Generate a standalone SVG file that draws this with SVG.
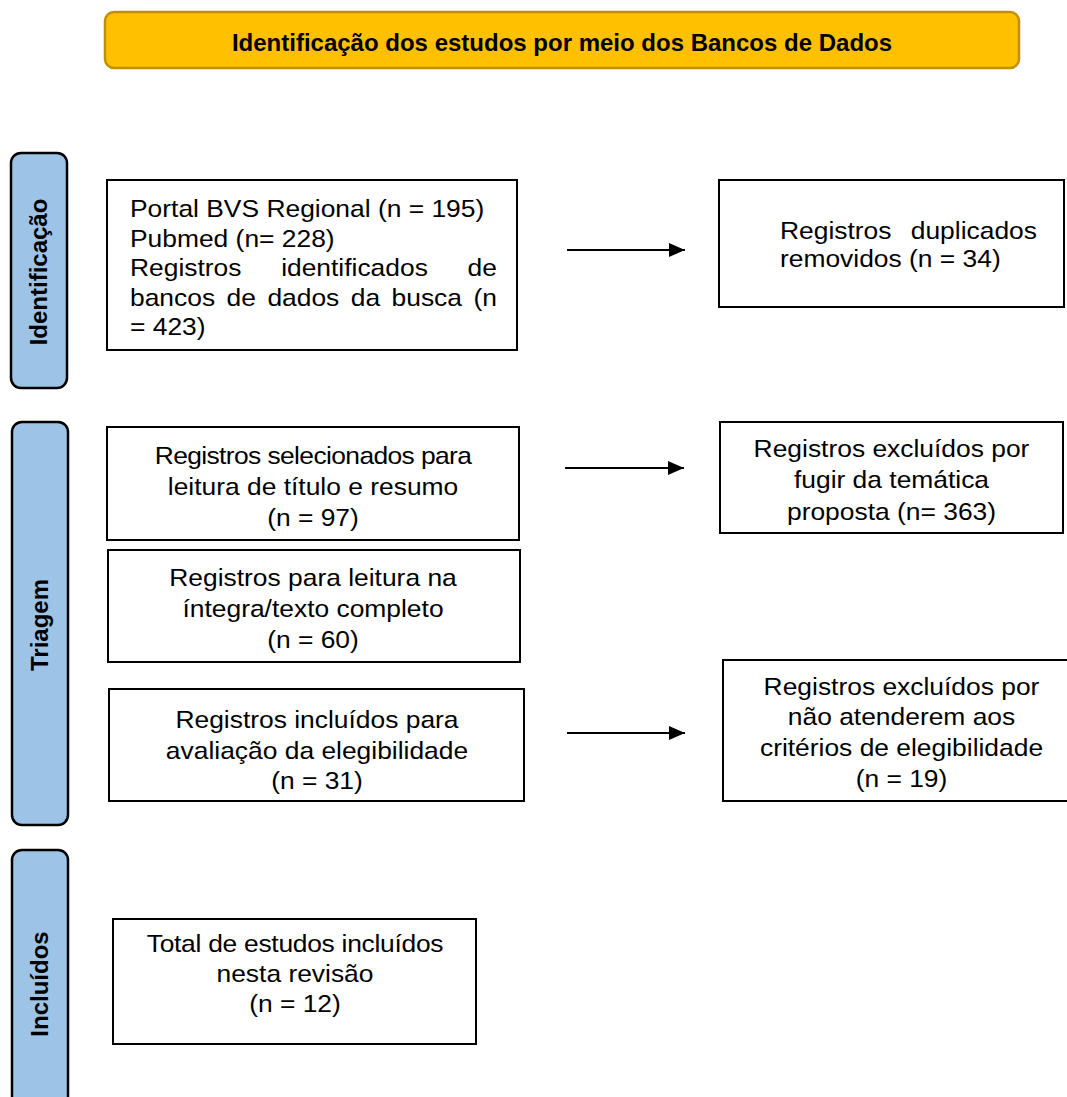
<svg xmlns="http://www.w3.org/2000/svg" width="1067" height="1097" viewBox="0 0 1067 1097">
<defs>
<style>
.bx{fill:#fff;stroke:#000;stroke-width:2}
.side{fill:#9DC3E6;stroke:#000;stroke-width:2.5}
.t{font-family:"Liberation Sans",Arial,sans-serif;font-size:24px;fill:#000}
.c{text-anchor:middle}
.e{text-anchor:end}
.b{font-family:"Liberation Sans",Arial,sans-serif;font-size:24px;font-weight:bold;fill:#000;text-anchor:middle}
.ar{stroke:#000;stroke-width:2;fill:none}
</style>
<marker id="ah" markerUnits="userSpaceOnUse" markerWidth="16" markerHeight="14" refX="16" refY="7" orient="auto">
<path d="M0,0 L16,7 L0,14 z" fill="#000"/>
</marker>
</defs>
<rect width="1067" height="1097" fill="#fff"/>

<g id="banner">
<rect x="105" y="12" width="914" height="56" rx="9" fill="#FFC000" stroke="#BF9000" stroke-width="2.5"/>
<text class="b" x="562" y="51">Identificação dos estudos por meio dos Bancos de Dados</text>
</g>

<g id="lane-identificacao">
<rect class="side" x="11" y="153" width="56" height="235" rx="10"/>
<text class="b" transform="translate(47,272) rotate(-90)" x="0" y="0">Identificação</text>
</g>
<g id="lane-triagem">
<rect class="side" x="12" y="422" width="56" height="403" rx="10"/>
<text class="b" transform="translate(48,625) rotate(-90)" x="0" y="0">Triagem</text>
</g>
<g id="lane-incluidos">
<rect class="side" x="12" y="850" width="56" height="268" rx="10"/>
<text class="b" transform="translate(48,984) rotate(-90)" x="0" y="0">Incluídos</text>
</g>

<g id="connectors">
<line class="ar" x1="567" y1="250" x2="685" y2="250" marker-end="url(#ah)"/>
<line class="ar" x1="565" y1="468" x2="684" y2="468" marker-end="url(#ah)"/>
<line class="ar" x1="567" y1="733" x2="685" y2="733" marker-end="url(#ah)"/>
</g>

<g id="box-registros-identificados">
<rect class="bx" x="107" y="180" width="410" height="170"/>
<g transform="translate(130,0) scale(1.1,1)">
<text class="t" x="0" y="217.5">Portal BVS Regional (n = 195)</text>
<text class="t" x="0" y="247">Pubmed (n= 228)</text>
<text class="t" x="0" y="276.5">Registros</text>
<text class="t" x="137.4" y="276.5">identificados</text>
<text class="t e" x="333.6" y="276.5">de</text>
<text class="t" x="0" y="306">bancos</text>
<text class="t" x="87.8" y="306">de</text>
<text class="t" x="124.9" y="306">dados</text>
<text class="t" x="200.7" y="306">da</text>
<text class="t" x="237.8" y="306">busca</text>
<text class="t e" x="333.6" y="306">(n</text>
<text class="t" x="0" y="335.5">= 423)</text>
</g>
</g>

<g id="box-duplicados">
<rect class="bx" x="719" y="180" width="345" height="127"/>
<g transform="translate(780,0) scale(1.1,1)">
<text class="t" x="0" y="239">Registros</text>
<text class="t e" x="233.6" y="239">duplicados</text>
<text class="t" x="0" y="267">removidos (n = 34)</text>
</g>
</g>

<g id="box-selecionados">
<rect class="bx" x="107" y="427" width="412" height="113"/>
<g transform="translate(313,0) scale(1.1,1)">
<text class="t c" x="0" y="464" letter-spacing="-0.55">Registros selecionados para</text>
<text class="t c" x="0" y="495">leitura de título e resumo</text>
<text class="t c" x="0" y="526">(n = 97)</text>
</g>
</g>

<g id="box-excluidos-tematica">
<rect class="bx" x="720" y="422" width="343" height="111"/>
<g transform="translate(891.5,0) scale(1.1,1)">
<text class="t c" x="0" y="457.5">Registros excluídos por</text>
<text class="t c" x="0" y="488.5">fugir da temática</text>
<text class="t c" x="0" y="520">proposta (n= 363)</text>
</g>
</g>

<g id="box-texto-completo">
<rect class="bx" x="108" y="550" width="412" height="112"/>
<g transform="translate(313,0) scale(1.1,1)">
<text class="t c" x="0" y="586.5">Registros para leitura na</text>
<text class="t c" x="0" y="617.5">íntegra/texto completo</text>
<text class="t c" x="0" y="648">(n = 60)</text>
</g>
</g>

<g id="box-elegibilidade">
<rect class="bx" x="109" y="689" width="415" height="112"/>
<g transform="translate(317,0) scale(1.1,1)">
<text class="t c" x="0" y="728.5">Registros incluídos para</text>
<text class="t c" x="0" y="759">avaliação da elegibilidade</text>
<text class="t c" x="0" y="789.5">(n = 31)</text>
</g>
</g>

<g id="box-excluidos-elegibilidade">
<rect class="bx" x="723" y="660" width="357" height="141"/>
<g transform="translate(901.5,0) scale(1.1,1)">
<text class="t c" x="0" y="695.5">Registros excluídos por</text>
<text class="t c" x="0" y="725.5">não atenderem aos</text>
<text class="t c" x="0" y="756">critérios de elegibilidade</text>
<text class="t c" x="0" y="787">(n = 19)</text>
</g>
</g>

<g id="box-total">
<rect class="bx" x="113" y="919" width="363" height="125"/>
<g transform="translate(295,0) scale(1.1,1)">
<text class="t c" x="0" y="952.5" letter-spacing="-0.25">Total de estudos incluídos</text>
<text class="t c" x="0" y="982.5">nesta revisão</text>
<text class="t c" x="0" y="1012.5">(n = 12)</text>
</g>
</g>
</svg>
